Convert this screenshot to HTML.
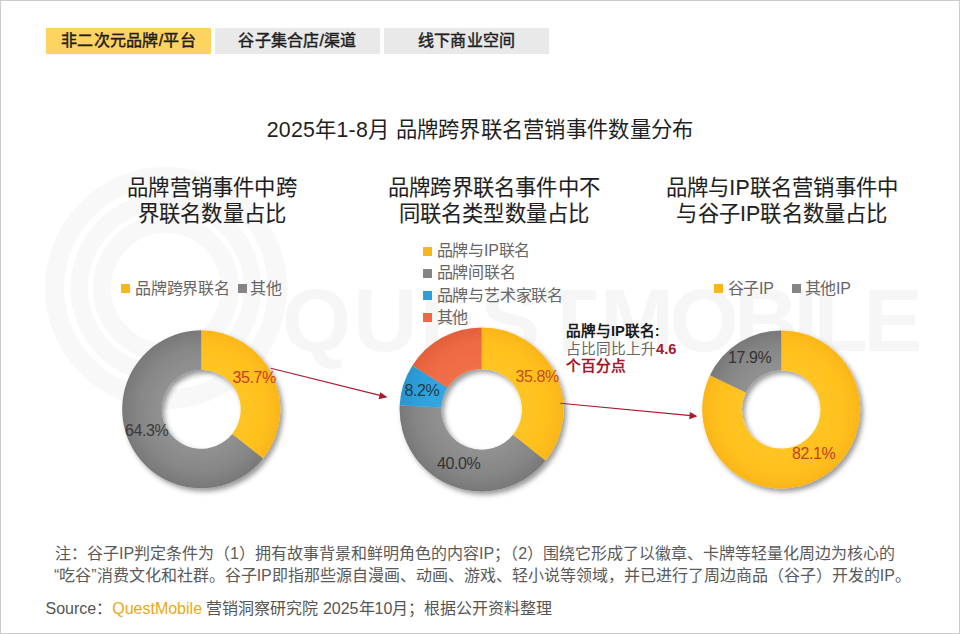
<!DOCTYPE html>
<html lang="zh-CN">
<head>
<meta charset="utf-8">
<title>2025年1-8月 品牌跨界联名营销事件数量分布</title>
<style>
html,body{margin:0;padding:0;background:#fff;}
body{width:960px;height:634px;position:relative;overflow:hidden;font-family:"Liberation Sans",sans-serif;color:#262626;}
.frame{position:absolute;left:0;top:0;width:958px;height:632px;border:1px solid #cbcbcb;box-sizing:content-box;}
.abs{position:absolute;white-space:nowrap;}
.tab{position:absolute;top:28px;height:26px;line-height:26px;text-align:center;font-size:16px;font-weight:normal;color:#1f1f1f;-webkit-text-stroke:0.45px #1f1f1f;letter-spacing:0.25px;}
.t1{left:46px;width:165px;background:#ffd35f;}
.t2{left:215px;width:165px;background:#e9e9e9;}
.t3{left:384px;width:165px;background:#e9e9e9;}
.title{left:0;width:960px;top:116px;text-align:center;font-size:21.33px;line-height:28px;color:#1f1f1f;letter-spacing:0.27px;}
.h{text-align:center;font-size:21.33px;line-height:26px;color:#1f1f1f;letter-spacing:0.2px;-webkit-text-stroke:0.12px #1f1f1f;}
.lg{font-size:16px;line-height:22px;color:#666;letter-spacing:-0.2px;}
.mk{position:absolute;width:9px;height:9px;}
.lab{font-size:16px;line-height:18px;letter-spacing:-0.4px;}
.note{font-size:16px;line-height:22px;color:#5a5a5a;}
.src{font-size:16px;line-height:22px;color:#555;}
.an{font-size:14.67px;line-height:17.3px;}
.wm{left:281.5px;top:270px;font-size:89px;line-height:100px;font-weight:bold;color:#f6f6f6;letter-spacing:-1.2px;}
svg{position:absolute;left:0;top:0;}
</style>
</head>
<body>
<div class="abs wm" style="left:282px;letter-spacing:2px;">QUEST</div><div class="abs wm" style="left:600px;letter-spacing:-4.7px;">MOBILE</div>
<svg width="960" height="634" viewBox="0 0 960 634">
<defs><radialGradient id="gy1" gradientUnits="userSpaceOnUse" cx="201.2" cy="409.3" r="79"><stop offset="0.45" stop-color="#ffc523"/><stop offset="0.8" stop-color="#ffc01e"/><stop offset="1" stop-color="#fbb618"/></radialGradient><radialGradient id="gg1" gradientUnits="userSpaceOnUse" cx="201.2" cy="409.3" r="79"><stop offset="0.45" stop-color="#939393"/><stop offset="0.8" stop-color="#868686"/><stop offset="1" stop-color="#787878"/></radialGradient><radialGradient id="gy2" gradientUnits="userSpaceOnUse" cx="481.6" cy="409.4" r="82"><stop offset="0.45" stop-color="#ffc523"/><stop offset="0.8" stop-color="#ffc01e"/><stop offset="1" stop-color="#fbb618"/></radialGradient><radialGradient id="gg2" gradientUnits="userSpaceOnUse" cx="481.6" cy="409.4" r="82"><stop offset="0.45" stop-color="#939393"/><stop offset="0.8" stop-color="#868686"/><stop offset="1" stop-color="#787878"/></radialGradient><radialGradient id="gb2" gradientUnits="userSpaceOnUse" cx="481.6" cy="409.4" r="82"><stop offset="0.45" stop-color="#33a8e2"/><stop offset="0.8" stop-color="#2ea0da"/><stop offset="1" stop-color="#2896ce"/></radialGradient><radialGradient id="gr2" gradientUnits="userSpaceOnUse" cx="481.6" cy="409.4" r="82"><stop offset="0.45" stop-color="#f17048"/><stop offset="0.8" stop-color="#ee6a44"/><stop offset="1" stop-color="#e2603c"/></radialGradient><radialGradient id="gy3" gradientUnits="userSpaceOnUse" cx="781.2" cy="409.4" r="79"><stop offset="0.45" stop-color="#ffc523"/><stop offset="0.8" stop-color="#ffc01e"/><stop offset="1" stop-color="#fbb618"/></radialGradient><radialGradient id="gg3" gradientUnits="userSpaceOnUse" cx="781.2" cy="409.4" r="79"><stop offset="0.45" stop-color="#939393"/><stop offset="0.8" stop-color="#868686"/><stop offset="1" stop-color="#787878"/></radialGradient>
<filter id="sh" x="-10%" y="-10%" width="125%" height="125%"><feDropShadow dx="2.8" dy="3.2" stdDeviation="2.8" flood-color="#000" flood-opacity="0.4"/></filter>
</defs>
<g fill="none" stroke="#f8f8f8">
<circle cx="166" cy="288" r="111.5" stroke-width="19"/>
<circle cx="166" cy="288" r="86.7" stroke-width="17.5"/>
<circle cx="166" cy="288" r="64" stroke-width="18"/>
</g>
<g filter="url(#sh)">
<path d="M201.20 330.30A79 79 0 0 1 263.01 458.50L232.10 433.90A39.5 39.5 0 0 0 201.20 369.80Z" fill="url(#gy1)"/>
<path d="M263.01 458.50A79 79 0 1 1 201.20 330.30L201.20 369.80A39.5 39.5 0 1 0 232.10 433.90Z" fill="url(#gg1)"/>
</g>
<g filter="url(#sh)">
<path d="M481.60 327.40A82 82 0 0 1 545.43 460.87L512.97 434.70A40.3 40.3 0 0 0 481.60 369.10Z" fill="url(#gy2)"/>
<path d="M545.43 460.87A82 82 0 0 1 399.70 405.28L441.35 407.38A40.3 40.3 0 0 0 512.97 434.70Z" fill="url(#gg2)"/>
<path d="M399.70 405.28A82 82 0 0 1 412.37 365.46L447.57 387.81A40.3 40.3 0 0 0 441.35 407.38Z" fill="url(#gb2)"/>
<path d="M412.37 365.46A82 82 0 0 1 481.60 327.40L481.60 369.10A40.3 40.3 0 0 0 447.57 387.81Z" fill="url(#gr2)"/>
</g>
<g filter="url(#sh)">
<path d="M781.20 330.40A79 79 0 1 1 709.93 375.31L745.84 392.49A39.2 39.2 0 1 0 781.20 370.20Z" fill="url(#gy3)"/>
<path d="M709.93 375.31A79 79 0 0 1 781.20 330.40L781.20 370.20A39.2 39.2 0 0 0 745.84 392.49Z" fill="url(#gg3)"/>
</g>
<g stroke="#a81a30" stroke-width="1.1" fill="#a81a30">
<line x1="270.8" y1="368.3" x2="381" y2="395.6"/>
<path d="M387.5 397.2L378.6 399.2L380.3 392.2Z" stroke="none"/>
<line x1="560.3" y1="403.3" x2="691" y2="415.6"/>
<path d="M697.5 416.2L689.2 419.2L689.9 412Z" stroke="none"/>
</g>
</svg>
<div class="frame"></div>

<div class="tab t1">非二次元品牌/平台</div>
<div class="tab t2">谷子集合店/渠道</div>
<div class="tab t3">线下商业空间</div>

<div class="abs title">2025年1-8月 品牌跨界联名营销事件数量分布</div>

<div class="abs h" style="left:92px;width:240px;top:174.8px;">品牌营销事件中跨<br>界联名数量占比</div>
<div class="abs h" style="left:374px;width:240px;top:174.8px;">品牌跨界联名事件中不<br>同联名类型数量占比</div>
<div class="abs h" style="left:652px;width:260px;top:174.8px;">品牌与IP联名营销事件中<br>与谷子IP联名数量占比</div>

<div class="mk" style="left:121px;top:284px;background:#f5b719;"></div>
<div class="abs lg" style="left:135px;top:278px;">品牌跨界联名</div>
<div class="mk" style="left:238px;top:284px;background:#858585;"></div>
<div class="abs lg" style="left:250px;top:278px;">其他</div>

<div class="mk" style="left:423px;top:246.5px;background:#f5b719;"></div>
<div class="abs lg" style="left:436.5px;top:240px;">品牌与IP联名</div>
<div class="mk" style="left:423px;top:268.7px;background:#858585;"></div>
<div class="abs lg" style="left:436.5px;top:262.2px;">品牌间联名</div>
<div class="mk" style="left:423px;top:291px;background:#2f9fd8;"></div>
<div class="abs lg" style="left:436.5px;top:284.5px;">品牌与艺术家联名</div>
<div class="mk" style="left:423px;top:313.2px;background:#ea6a45;"></div>
<div class="abs lg" style="left:436.5px;top:306.7px;">其他</div>

<div class="mk" style="left:714px;top:284px;background:#f5b719;"></div>
<div class="abs lg" style="left:727.5px;top:278px;">谷子IP</div>
<div class="mk" style="left:791.5px;top:284px;background:#858585;"></div>
<div class="abs lg" style="left:804.5px;top:278px;">其他IP</div>

<div class="abs lab" style="left:232.5px;top:369px;color:#c2401c;">35.7%</div>
<div class="abs lab" style="left:125px;top:422px;color:#3a3a3a;">64.3%</div>
<div class="abs lab" style="left:515.5px;top:368px;color:#c2501c;">35.8%</div>
<div class="abs lab" style="left:437px;top:454.5px;color:#333;">40.0%</div>
<div class="abs lab" style="left:404.5px;top:382px;color:#1f3a4a;">8.2%</div>
<div class="abs lab" style="left:728px;top:348.5px;color:#333;">17.9%</div>
<div class="abs lab" style="left:792px;top:444.5px;color:#c2401c;">82.1%</div>

<div class="abs an" style="left:566px;top:323.4px;color:#1a1a1a;font-weight:bold;">品牌与IP联名:</div>
<div class="abs an" style="left:566px;top:341.3px;color:#666;">占比同比上升<b style="color:#a3192e;">4.6</b></div>
<div class="abs an" style="left:566px;top:357.7px;color:#a3192e;font-weight:bold;">个百分点</div>

<div class="abs note" style="left:55px;top:542.7px;">注：谷子IP判定条件为（1）拥有故事背景和鲜明角色的内容IP；（2）围绕它形成了以徽章、卡牌等轻量化周边为核心的</div>
<div class="abs note" style="left:54px;top:564.7px;">“吃谷”消费文化和社群。谷子IP即指那些源自漫画、动画、游戏、轻小说等领域，并已进行了周边商品（谷子）开发的IP。</div>
<div class="abs src" style="left:45.5px;top:597.7px;">Source：<span style="color:#e9a820;">QuestMobile</span> 营销洞察研究院 2025年10月；根据公开资料整理</div>
</body>
</html>
